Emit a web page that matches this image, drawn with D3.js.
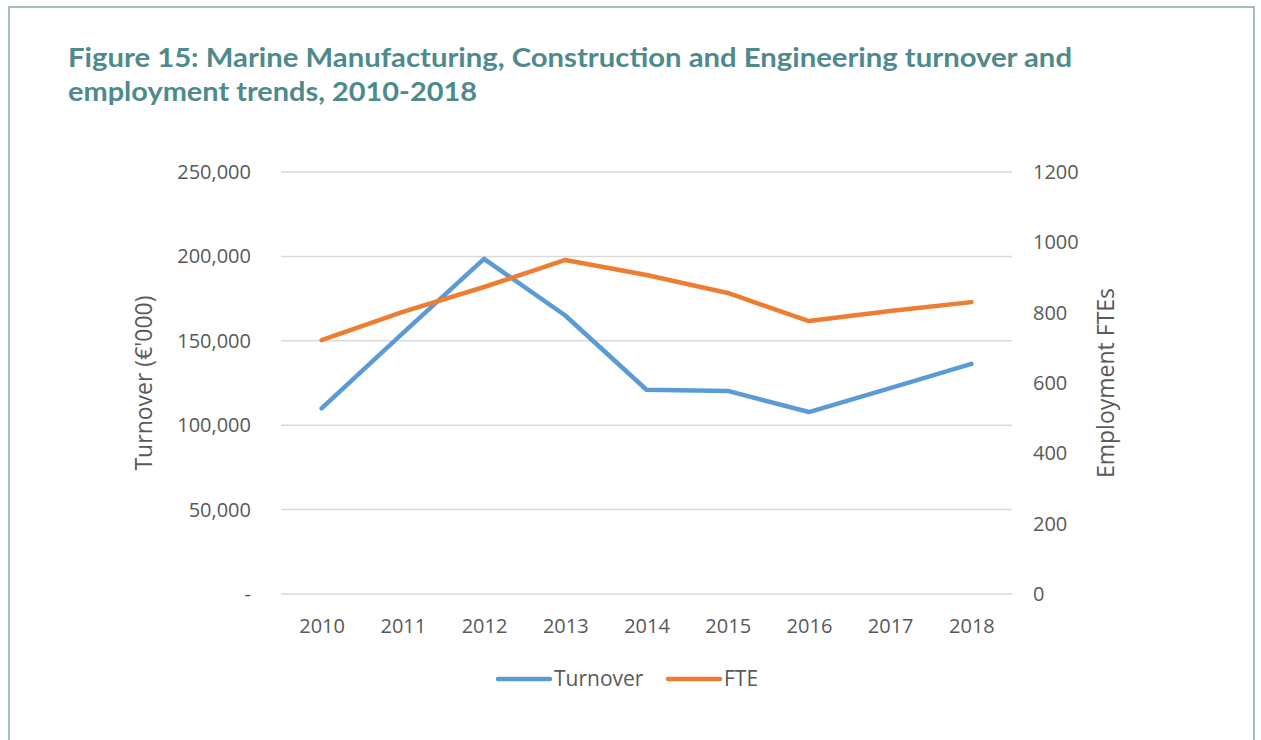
<!DOCTYPE html>
<html>
<head>
<meta charset="utf-8">
<script src="https://cdn.jsdelivr.net/npm/d3@7"></script>
<style>
  body { margin: 0; background: #fff; }
  svg { display: block; }
</style>
</head>
<body>
<svg id="chart"></svg>
<script>
const years = ["2010", "2011", "2012", "2013", "2014", "2015", "2016", "2017", "2018"];
const turnover = [110000, 154500, 198500, 165000, 121000, 120300, 107800, 122000, 136300];
const fte = [722, 802, 873, 950, 907, 856, 776, 805, 830];
const leftTicks = [0, 50000, 100000, 150000, 200000, 250000];
const rightTicks = [0, 200, 400, 600, 800, 1000, 1200];

const width = 1261;
const height = 740;
const blue = "#5b9bd5";
const orange = "#ed7d31";
const textColor = "#595959";
const font = "'Open Sans', sans-serif";

const svg = d3.select("#chart")
    .attr("width", width)
    .attr("height", height);

// frame around the figure
svg.append("path")
    .attr("d", "M9,745 V7 H1254 V745")
    .attr("fill", "none")
    .attr("stroke", "#86aab0")
    .attr("stroke-width", 1.5);

// title
const title = svg.append("text")
    .attr("fill", "#4e8a8c")
    .attr("font-family", "Lato, sans-serif")
    .attr("font-weight", "bold")
    .attr("font-size", 26);
title.append("tspan").attr("x", 68).attr("y", 67)
    .attr("textLength", 1004).attr("lengthAdjust", "spacingAndGlyphs")
    .text("Figure 15: Marine Manufacturing, Construction and Engineering turnover and");
title.append("tspan").attr("x", 68).attr("y", 101)
    .attr("textLength", 409).attr("lengthAdjust", "spacingAndGlyphs")
    .text("employment trends, 2010-2018");

// scales
const x = d3.scalePoint().domain(years).range([281, 1012]).padding(0.5);
const yLeft = d3.scaleLinear().domain([0, 250000]).range([594, 172]);
const yRight = d3.scaleLinear().domain([0, 1200]).range([594, 172]);

// gridlines
svg.append("g")
    .selectAll("line")
    .data(leftTicks)
    .join("line")
    .attr("x1", 281)
    .attr("x2", 1012)
    .attr("y1", d => yLeft(d))
    .attr("y2", d => yLeft(d))
    .attr("stroke", "#d9d9d9")
    .attr("stroke-width", 1.5);

// left axis
const leftAxis = svg.append("g")
    .attr("transform", "translate(262,0)")
    .call(d3.axisLeft(yLeft).tickValues(leftTicks).tickSize(0)
        .tickFormat(d => d === 0 ? "-" : d3.format(",")(d)));
leftAxis.select(".domain").remove();
leftAxis.selectAll("text")
    .attr("x", -11)
    .attr("fill", textColor)
    .attr("font-family", font)
    .attr("font-size", 20);

// right axis
const rightAxis = svg.append("g")
    .attr("transform", "translate(1023,0)")
    .call(d3.axisRight(yRight).tickValues(rightTicks).tickSize(0).tickFormat(d3.format("d")));
rightAxis.select(".domain").remove();
rightAxis.selectAll("text")
    .attr("x", 10)
    .attr("fill", textColor)
    .attr("font-family", font)
    .attr("font-size", 20);

// x axis
const xAxis = svg.append("g")
    .attr("transform", "translate(0,616)")
    .call(d3.axisBottom(x).tickSize(0));
xAxis.select(".domain").remove();
xAxis.selectAll("text")
    .attr("fill", textColor)
    .attr("font-family", font)
    .attr("font-size", 20);

// axis titles
svg.append("text")
    .attr("transform", "translate(152,383) rotate(-90)")
    .attr("text-anchor", "middle")
    .attr("fill", textColor)
    .attr("font-family", font)
    .attr("font-size", 23)
    .text("Turnover (€'000)");

svg.append("text")
    .attr("transform", "translate(1114,383) rotate(-90)")
    .attr("text-anchor", "middle")
    .attr("fill", textColor)
    .attr("font-family", font)
    .attr("font-size", 23)
    .text("Employment FTEs");

// lines
const turnoverLine = d3.line()
    .x((d, i) => x(years[i]))
    .y(d => yLeft(d));
const fteLine = d3.line()
    .x((d, i) => x(years[i]))
    .y(d => yRight(d));

svg.append("path")
    .datum(turnover)
    .attr("d", turnoverLine)
    .attr("fill", "none")
    .attr("stroke", blue)
    .attr("stroke-width", 4.5)
    .attr("stroke-linejoin", "round")
    .attr("stroke-linecap", "round");

svg.append("path")
    .datum(fte)
    .attr("d", fteLine)
    .attr("fill", "none")
    .attr("stroke", orange)
    .attr("stroke-width", 4.5)
    .attr("stroke-linejoin", "round")
    .attr("stroke-linecap", "round");

// legend
const legendItems = [
    { name: "Turnover", color: blue, x: 498 },
    { name: "FTE", color: orange, x: 668 }
];
const legend = svg.append("g")
    .selectAll("g")
    .data(legendItems)
    .join("g")
    .attr("transform", d => `translate(${d.x},679)`);
legend.append("line")
    .attr("x1", 0)
    .attr("x2", 52)
    .attr("stroke", d => d.color)
    .attr("stroke-width", 4.5)
    .attr("stroke-linecap", "round");
legend.append("text")
    .attr("x", 56)
    .attr("dy", "0.35em")
    .attr("fill", textColor)
    .attr("font-family", font)
    .attr("font-size", 21)
    .text(d => d.name);
</script>
</body>
</html>
